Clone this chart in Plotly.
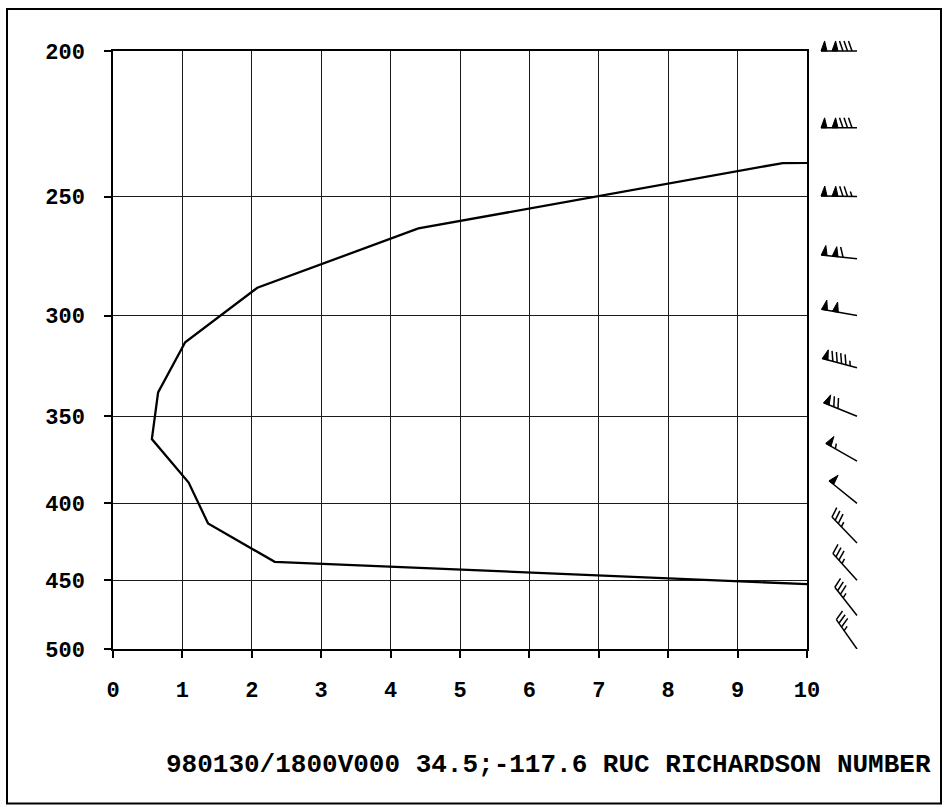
import math
import plotly.graph_objects as go

# Bulk Richardson number, plotted at the midpoint of each 25 mb layer
layer_p = [212.5, 237.5, 262.5, 287.5, 312.5, 337.5, 362.5, 387.5, 412.5, 437.5, 462.5]
richardson = [250.0, 9.65, 4.4, 2.08, 1.04, 0.65, 0.56, 1.09, 1.37, 2.33, 14.8]

# Wind at the 25 mb levels (direction in degrees, speed in knots)
wind_p = [200, 225, 250, 275, 300, 325, 350, 375, 400, 425, 450, 475, 500]
wind_dir = [270, 270, 271, 276, 280, 285, 292, 300, 309, 316, 318, 322, 325]
wind_kt = [130, 130, 125, 110, 100, 95, 70, 55, 50, 35, 35, 35, 35]

x_ticks = list(range(0, 11))
p_ticks = [200, 250, 300, 350, 400, 450, 500]

title_text = "980130/1800V000 34.5;-117.6 RUC RICHARDSON NUMBER"

# ---- page geometry (pixels) ----
W, H = 945, 809
M_L, M_R, M_T, M_B = 113, 65, 20, 160
PW = W - M_L - M_R
PH = H - M_T - M_B
MAIN_W, MAIN_H = 694, 600           # Richardson-number panel
BARB_X0, BARB_W = 820, 60            # wind-barb strip to the right

P_BOT, P_TOP = 500.0, 200.0
LOG_PER_PX = math.log10(P_BOT / P_TOP) / MAIN_H


def px_x(px):
    return (px - M_L) / PW


def px_y(py):
    return (M_T + PH - py) / PH


FONT = dict(family="Liberation Mono", size=22, color="black", weight="bold")

fig = go.Figure()

# Richardson number profile
fig.add_trace(go.Scatter(
    x=richardson, y=layer_p, mode="lines",
    line=dict(color="black", width=2.3),
    xaxis="x", yaxis="y", showlegend=False, hoverinfo="skip",
))

# ---- wind barbs ----
STATION_X = 37.0      # x2 units are pixels
STAFF = 36.0
FLAG_W, FLAG_H, FLAG_GAP = 6.0, 10.0, 5.0
BARB_L, BARB_STEP, LEAN = 10.0, 4.5, 0.35

line_x, line_y, flag_x, flag_y = [], [], [], []
for p, d_deg, spd in zip(wind_p, wind_dir, wind_kt):
    a = math.radians(d_deg)
    ux, uy = math.sin(a), math.cos(a)          # toward the wind source
    nx, ny = uy, -ux                            # barb side
    base_y = math.log10(p)

    def pt(along, off):
        sx = along * ux + off * nx
        sy = along * uy + off * ny
        return STATION_X + sx, base_y - sy * LOG_PER_PX

    # staff
    for q in (pt(0, 0), pt(STAFF, 0)):
        line_x.append(q[0]); line_y.append(q[1])
    line_x.append(None); line_y.append(None)

    s = int(round(spd / 5.0)) * 5
    n_flag, rem = divmod(s, 50)
    n_full, rem = divmod(rem, 10)
    n_half = 1 if rem >= 5 else 0

    pos = STAFF
    for _ in range(n_flag):
        tri = [pt(pos, 0), pt(pos - 0.6 * FLAG_W, FLAG_H), pt(pos - FLAG_W, 0), pt(pos, 0)]
        for q in tri:
            flag_x.append(q[0]); flag_y.append(q[1])
        flag_x.append(None); flag_y.append(None)
        pos -= FLAG_W + FLAG_GAP
    for _ in range(n_full):
        for q in (pt(pos, 0), pt(pos + LEAN * BARB_L, BARB_L)):
            line_x.append(q[0]); line_y.append(q[1])
        line_x.append(None); line_y.append(None)
        pos -= BARB_STEP
    for _ in range(n_half):
        for q in (pt(pos, 0), pt(pos + LEAN * BARB_L / 2, BARB_L / 2)):
            line_x.append(q[0]); line_y.append(q[1])
        line_x.append(None); line_y.append(None)

fig.add_trace(go.Scatter(
    x=line_x, y=line_y, mode="lines", line=dict(color="black", width=1.5),
    xaxis="x2", yaxis="y2", showlegend=False, hoverinfo="skip",
))
fig.add_trace(go.Scatter(
    x=flag_x, y=flag_y, mode="lines", fill="toself", fillcolor="black",
    line=dict(color="black", width=1),
    xaxis="x2", yaxis="y2", showlegend=False, hoverinfo="skip",
))

axis_common = dict(
    showgrid=True, gridcolor="#1a1a1a", gridwidth=1.3,
    showline=True, mirror=True, linecolor="black", linewidth=1.5,
    ticks="outside", ticklen=7, tickwidth=1.5, tickcolor="black",
    zeroline=False, tickfont=FONT,
)

fig.update_layout(
    width=W, height=H,
    margin=dict(l=M_L, r=M_R, t=M_T, b=M_B),
    paper_bgcolor="white", plot_bgcolor="white",
    xaxis=dict(
        domain=[0, MAIN_W / PW], range=[0, 10], anchor="y",
        tickmode="array", tickvals=x_ticks, ticktext=[str(v) for v in x_ticks],
        ticklabelstandoff=13, **axis_common,
    ),
    yaxis=dict(
        domain=[0, MAIN_H / PH], type="log", anchor="x",
        range=[math.log10(P_BOT), math.log10(P_TOP)],
        tickmode="array", tickvals=p_ticks, ticktext=[str(v) for v in p_ticks],
        ticklabelstandoff=15, **axis_common,
    ),
    xaxis2=dict(
        domain=[px_x(BARB_X0), px_x(BARB_X0 + BARB_W)], range=[0, BARB_W],
        anchor="y2", visible=False, fixedrange=True,
    ),
    yaxis2=dict(
        domain=[0, 1], anchor="x2", visible=False, fixedrange=True,
        range=[math.log10(P_BOT), math.log10(P_BOT) - PH * LOG_PER_PX],
    ),
    shapes=[dict(
        type="rect", xref="paper", yref="paper",
        x0=px_x(7), x1=px_x(941), y0=px_y(804), y1=px_y(7),
        line=dict(color="black", width=2), fillcolor="rgba(0,0,0,0)",
    )],
    annotations=[dict(
        text=title_text, xref="paper", yref="paper",
        x=px_x(548), y=px_y(765), xanchor="center", yanchor="middle",
        showarrow=False, font=dict(family="Liberation Mono", size=26, color="black", weight="bold"),
    )],
)

fig.write_html("out.html")
